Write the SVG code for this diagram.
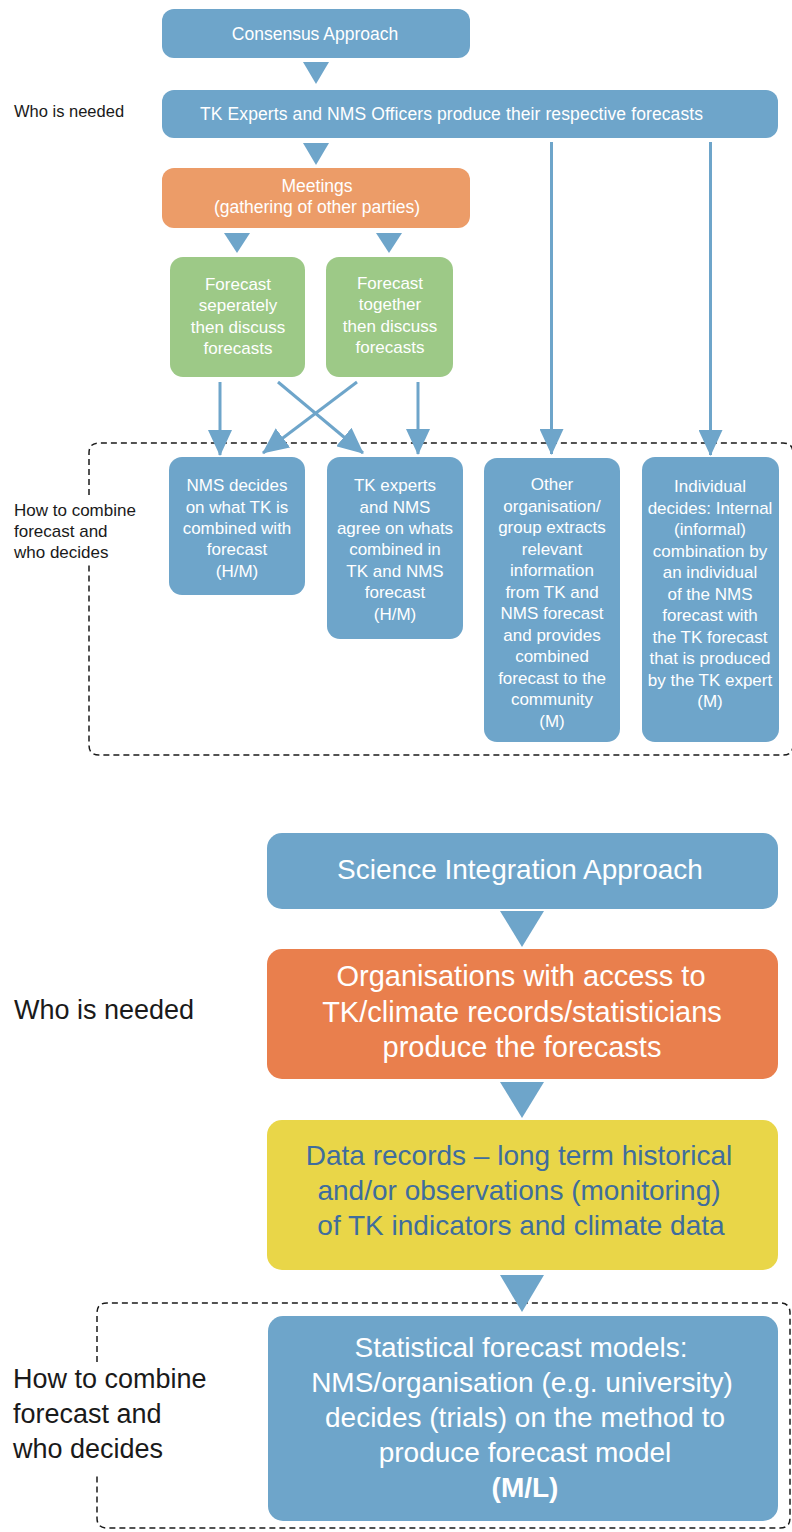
<svg xmlns="http://www.w3.org/2000/svg" width="792" height="1532" viewBox="0 0 792 1532">
<style>
.bl{fill:#6EA5CA}
.or1{fill:#EC9C68}
.gr{fill:#9DC987}
.or2{fill:#E97F4D}
.ye{fill:#E9D648}
.t{font-family:"Liberation Sans",Arial,sans-serif;fill:#fff;text-anchor:middle}
.s17{font-size:17px}
.s175{font-size:17.5px}
.s28{font-size:28px}
.yt{fill:#3F6D9D}
.lab{font-family:"Liberation Sans",Arial,sans-serif;fill:#1a1a1a}
.dash{fill:none;stroke:#1a1a1a;stroke-width:1.5;stroke-dasharray:6 4}
.ln{stroke:#6EA5CA;stroke-width:3;fill:none}
.tri{fill:#6EA5CA}
</style>
<defs>
<marker id="ah" markerUnits="userSpaceOnUse" viewBox="0 0 26 24" refX="25" refY="12" markerWidth="26" markerHeight="24" orient="auto">
<path d="M0,0 L26,12 L0,24 z" fill="#6EA5CA"/>
</marker>
</defs>
<rect width="792" height="1532" fill="#fff"/>

<!-- Labels -->
<g id="labels">
<text class="lab" x="14" y="117" font-size="16.5">Who is needed</text>
<text class="lab" x="14" y="516" font-size="17">How to combine</text>
<text class="lab" x="14" y="537" font-size="17">forecast and</text>
<text class="lab" x="14" y="558" font-size="17">who decides</text>
<text class="lab" x="14" y="1019" font-size="27">Who is needed</text>
<text class="lab" x="13" y="1388" font-size="27">How to combine</text>
<text class="lab" x="13" y="1423" font-size="27">forecast and</text>
<text class="lab" x="13" y="1458" font-size="27">who decides</text>
</g>

<!-- Dashed groupings -->
<g id="groups">
<path class="dash" d="M89,495 L89,453 Q89,443 99,443 L783,443 Q793,443 793,453 L793,745 Q793,755 783,755 L99,755 Q89,755 89,745 L89,565"/>
<path class="dash" d="M97,1362 L97,1313 Q97,1303 107,1303 L780,1303 Q790,1303 790,1313 L790,1518 Q790,1528 780,1528 L107,1528 Q97,1528 97,1518 L97,1475"/>
</g>

<!-- Connectors -->
<g id="connectors">
<polygon class="tri" points="303,62 329,62 316,84"/>
<polygon class="tri" points="303,143 329,143 316,165"/>
<polygon class="tri" points="224,233 250,233 237,253"/>
<polygon class="tri" points="376,233 402,233 389,253"/>
<line class="ln" x1="220" y1="382" x2="220" y2="455" marker-end="url(#ah)"/>
<line class="ln" x1="418" y1="382" x2="418" y2="454" marker-end="url(#ah)"/>
<line class="ln" x1="278" y1="382" x2="363" y2="453" marker-end="url(#ah)"/>
<line class="ln" x1="357" y1="382" x2="263" y2="453" marker-end="url(#ah)"/>
<line class="ln" x1="551.5" y1="142" x2="551.5" y2="454" marker-end="url(#ah)"/>
<line class="ln" x1="710.5" y1="142" x2="710.5" y2="455" marker-end="url(#ah)"/>
<polygon class="tri" points="500,911 544,911 522,947"/>
<polygon class="tri" points="500,1082 544,1082 522,1118"/>
<polygon class="tri" points="500,1275 544,1275 522,1312"/>
</g>

<!-- Consensus approach nodes -->
<g id="consensus">
<rect class="bl" x="162" y="9" width="308" height="49" rx="12"/>
<text class="t s175" x="315" y="40">Consensus Approach</text>
</g>
<g id="tk-nms">
<rect class="bl" x="162" y="90" width="616" height="48" rx="12"/>
<text class="t s175" x="451.5" y="120" textLength="503">TK Experts and NMS Officers produce their respective forecasts</text>
</g>
<g id="meetings">
<rect class="or1" x="162" y="168" width="308" height="60" rx="12"/>
<text class="t s175" x="317" y="192">Meetings</text>
<text class="t s175" x="317" y="213">(gathering of other parties)</text>
</g>
<g id="forecast-separately">
<rect class="gr" x="170" y="257" width="135" height="120" rx="13"/>
<text class="t s17" x="238" y="290">Forecast</text>
<text class="t s17" x="238" y="311">seperately</text>
<text class="t s17" x="238" y="333">then discuss</text>
<text class="t s17" x="238" y="354">forecasts</text>
</g>
<g id="forecast-together">
<rect class="gr" x="326" y="257" width="127" height="120" rx="13"/>
<text class="t s17" x="390" y="289">Forecast</text>
<text class="t s17" x="390" y="310">together</text>
<text class="t s17" x="390" y="332">then discuss</text>
<text class="t s17" x="390" y="353">forecasts</text>
</g>
<g id="nms-decides">
<rect class="bl" x="169" y="457" width="136" height="138" rx="13"/>
<text class="t s17" x="237" y="491">NMS decides</text>
<text class="t s17" x="237" y="513">on what TK is</text>
<text class="t s17" x="237" y="534">combined with</text>
<text class="t s17" x="237" y="555">forecast</text>
<text class="t s17" x="237" y="577">(H/M)</text>
</g>
<g id="tk-agree">
<rect class="bl" x="327" y="457" width="136" height="182" rx="13"/>
<text class="t s17" x="395" y="491">TK experts</text>
<text class="t s17" x="395" y="513">and NMS</text>
<text class="t s17" x="395" y="534">agree on whats</text>
<text class="t s17" x="395" y="555">combined in</text>
<text class="t s17" x="395" y="577">TK and NMS</text>
<text class="t s17" x="395" y="598">forecast</text>
<text class="t s17" x="395" y="620">(H/M)</text>
</g>
<g id="other-org">
<rect class="bl" x="484" y="458" width="136" height="284" rx="13"/>
<text class="t s17" x="552" y="490">Other</text>
<text class="t s17" x="552" y="512">organisation/</text>
<text class="t s17" x="552" y="533">group extracts</text>
<text class="t s17" x="552" y="555">relevant</text>
<text class="t s17" x="552" y="576">information</text>
<text class="t s17" x="552" y="598">from TK and</text>
<text class="t s17" x="552" y="619">NMS forecast</text>
<text class="t s17" x="552" y="641">and provides</text>
<text class="t s17" x="552" y="662">combined</text>
<text class="t s17" x="552" y="684">forecast to the</text>
<text class="t s17" x="552" y="705">community</text>
<text class="t s17" x="552" y="727">(M)</text>
</g>
<g id="individual">
<rect class="bl" x="642" y="457" width="137" height="285" rx="13"/>
<text class="t s17" x="710" y="492">Individual</text>
<text class="t s17" x="710" y="513.5">decides: Internal</text>
<text class="t s17" x="710" y="535">(informal)</text>
<text class="t s17" x="710" y="556.5">combination by</text>
<text class="t s17" x="710" y="578">an individual</text>
<text class="t s17" x="710" y="599.5">of the NMS</text>
<text class="t s17" x="710" y="621">forecast with</text>
<text class="t s17" x="710" y="642.5">the TK forecast</text>
<text class="t s17" x="710" y="664">that is produced</text>
<text class="t s17" x="710" y="685.5">by the TK expert</text>
<text class="t s17" x="710" y="707">(M)</text>
</g>

<!-- Science integration approach -->
<g id="science">
<rect class="bl" x="267" y="833" width="511" height="76" rx="15"/>
<text class="t s28" x="520" y="879">Science Integration Approach</text>
</g>
<g id="organisations">
<rect class="or2" x="267" y="949" width="511" height="130" rx="15"/>
<text class="t" font-size="29" x="521" y="986">Organisations with access to</text>
<text class="t" font-size="29" x="522" y="1022">TK/climate records/statisticians</text>
<text class="t" font-size="29" x="522" y="1057">produce the forecasts</text>
</g>
<g id="data-records">
<rect class="ye" x="267" y="1120" width="511" height="150" rx="15"/>
<text class="t s28 yt" x="519" y="1165">Data records – long term historical</text>
<text class="t s28 yt" x="519" y="1200">and/or observations (monitoring)</text>
<text class="t s28 yt" x="521" y="1235">of TK indicators and climate data</text>
</g>
<g id="statistical">
<rect class="bl" x="268" y="1316" width="510" height="205" rx="15"/>
<text class="t s28" x="521" y="1357">Statistical forecast models:</text>
<text class="t s28" x="522" y="1392">NMS/organisation (e.g. university)</text>
<text class="t s28" x="525" y="1427">decides (trials) on the method to</text>
<text class="t s28" x="525" y="1462">produce forecast model</text>
<text class="t s28" x="525" y="1497" font-weight="bold">(M/L)</text>
</g>
</svg>
